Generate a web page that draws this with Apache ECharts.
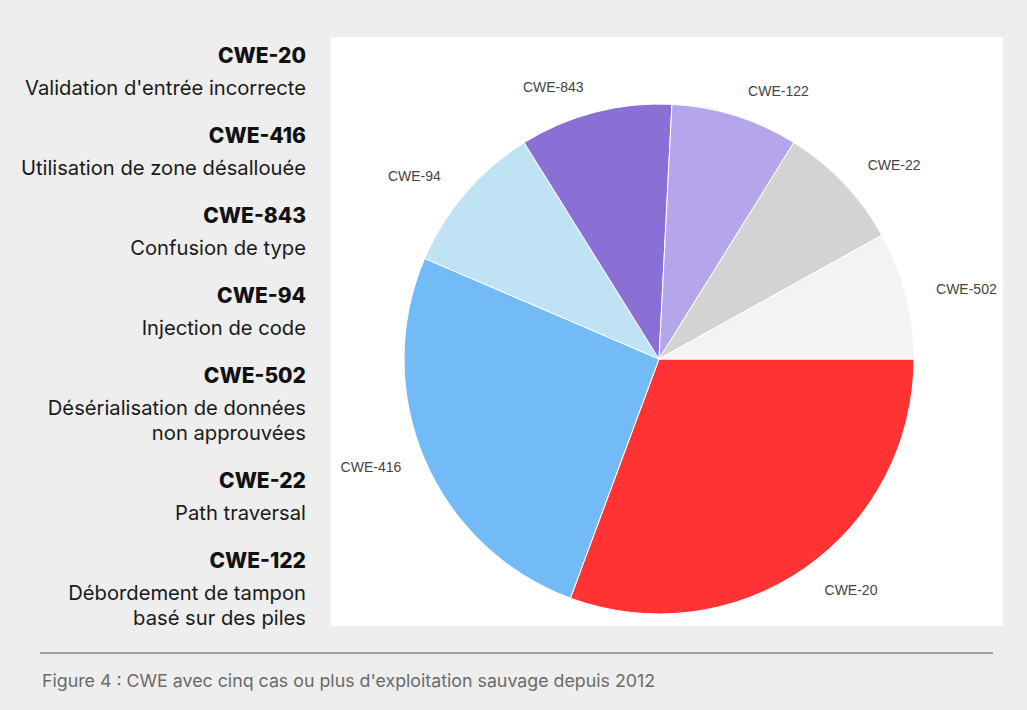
<!DOCTYPE html>
<html>
<head>
<meta charset="utf-8">
<script src="https://cdn.jsdelivr.net/npm/echarts@6/dist/echarts.min.js"></script>
<style>
html,body{margin:0;padding:0;background:#eeeeee;}
#chart{width:1027px;height:710px;}
</style>
</head>
<body>
<div id="chart"></div>
<script>
const categories = ['CWE-20','CWE-416','CWE-94','CWE-843','CWE-122','CWE-22','CWE-502'];
const values = [19,16,6,6,5,5,5];
const colors = ['#ff3333','#73bbf7','#bfe2f5','#8a70d6','#b5a5ea','#d3d3d3','#f3f3f3'];
const legendTitles = ['CWE-20','CWE-416','CWE-843','CWE-94','CWE-502','CWE-22','CWE-122'];
const legendDescs = [
  ["Validation d'entrée incorrecte"],
  ['Utilisation de zone désallouée'],
  ['Confusion de type'],
  ['Injection de code'],
  ['Désérialisation de données','non approuvées'],
  ['Path traversal'],
  ['Débordement de tampon','basé sur des piles']
];
const caption = "Figure 4 : CWE avec cinq cas ou plus d'exploitation sauvage depuis 2012";

const chart = echarts.init(document.getElementById('chart'), null, {renderer:'svg'});

const graphics = [
  {type:'rect', shape:{x:331,y:37,width:672,height:589}, style:{fill:'#ffffff'}, z:-10},
  {type:'line', shape:{x1:40,y1:653,x2:993,y2:653}, style:{stroke:'#555555',lineWidth:1}},
  {type:'text', x:42, y:680, style:{text:caption, fill:'#6a6a6a', font:'17.8px Inter, "Noto Sans", sans-serif', textVerticalAlign:'middle'}}
];
let y = 55;
legendTitles.forEach((t,i)=>{
  graphics.push({type:'text', x:306, y:y, style:{text:t, fill:'#111111', font:'800 21px Inter, "Noto Sans", sans-serif', textAlign:'right', textVerticalAlign:'middle'}});
  let yy = y + 32;
  legendDescs[i].forEach((d,j)=>{
    graphics.push({type:'text', x:306, y:yy, style:{text:d, fill:'#1a1a1a', font:'20.2px Inter, "Noto Sans", sans-serif', textAlign:'right', textVerticalAlign:'middle'}});
    yy += 25;
  });
  y = yy - 25 + 48;
});

chart.setOption({
  backgroundColor:'#eeeeee',
  animation:false,
  graphic: graphics,
  series:[{
    type:'pie',
    center:[659,359],
    radius:255,
    startAngle:0,
    clockwise:true,
    avoidLabelOverlap:false,
    itemStyle:{borderColor:'#ffffff', borderWidth:1},
    label:{show:true, position:'outside', color:'#444444', fontSize:14, fontFamily:'"Liberation Sans", Arial, sans-serif', distanceToLabelLine:5},
    labelLine:{show:false, length:26, length2:0},
    data: categories.map((c,i)=>{
      const d = {name:c, value:values[i], itemStyle:{color:colors[i]}};
      if (c === 'CWE-416') d.labelLine = {show:false, length:20, length2:0};
      return d;
    })
  }]
});
</script>
</body>
</html>
